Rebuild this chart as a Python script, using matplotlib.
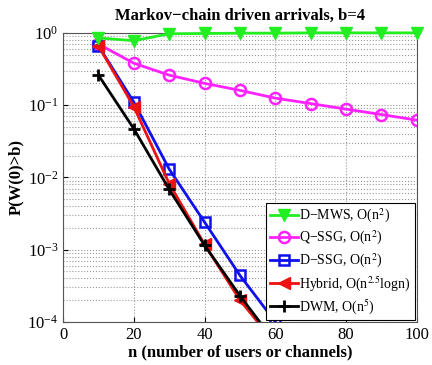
import numpy as np
import matplotlib
matplotlib.use("Agg")
import matplotlib.pyplot as plt

# data
n = [10, 20, 30, 40, 50, 60, 70, 80, 90, 100]
n_fast = [10, 20, 30, 40, 50, 60]

p_dmws = [0.85, 0.78, 0.97, 0.98, 0.99, 0.99, 1.0, 1.0, 1.0, 1.0]
p_qssg = [0.70, 0.38, 0.26, 0.20, 0.16, 0.125, 0.105, 0.088, 0.074, 0.062]
p_dssg = [0.66, 0.11, 0.013, 0.0024, 0.00044, 0.0001]
p_hybrid = [0.66, 0.095, 0.0082, 0.00118, 0.0002, 0.00005]
p_dwm = [0.26, 0.047, 0.0068, 0.00115, 0.00023, 0.000052]

labels = ['D\u2212MWS, O(n$^2$)', 'Q\u2212SSG, O(n$^2$)', 'D\u2212SSG, O(n$^2$)',
          'Hybrid, O(n$^{2.5}$logn)', 'DWM, O(n$^5$)']

plt.rcParams['font.family'] = ['Liberation Serif', 'DejaVu Serif']
plt.rcParams['mathtext.fontset'] = 'stix'

fig = plt.figure(figsize=(4.32, 3.65), dpi=100)
ax = fig.add_axes([0.146, 0.118, 0.819, 0.792])

ax.semilogy(n, p_dmws, '-v', color='#22ee22', lw=2, ms=8, mfc='#22ee22', label=labels[0],
            clip_on=False, zorder=5)
ax.semilogy(n, p_qssg, '-o', color='#ff22ff', lw=2, ms=8, mfc='none', mew=1.8, label=labels[1])
ax.semilogy(n_fast, p_dssg, '-s', color='#1010ee', lw=2, ms=7, mfc='none', mew=1.8, label=labels[2])
ax.semilogy(n_fast, p_hybrid, '-<', color='#ee1111', lw=2, ms=8, mfc='#ee1111', label=labels[3])
ax.semilogy(n_fast, p_dwm, '-+', color='black', lw=2, ms=9, mew=2, label=labels[4])

ax.set_xlim(0, 100)
ax.set_ylim(1e-4, 1)
ax.set_xticks([0, 20, 40, 60, 80, 100])
ax.grid(True, which='major', ls=':', color='#999999', lw=0.8)
ax.grid(True, which='minor', axis='y', ls=':', color='#999999', lw=0.8)
ax.tick_params(labelsize=12, direction='in', which='both')
ax.tick_params(axis='y', which='minor', length=0)
for s in ax.spines.values():
    s.set_color('#555555')

ax.set_title('Markov\u2212chain driven arrivals, b=4', fontsize=12, fontweight='bold', pad=9)
ax.set_xlabel('n (number of users or channels)', fontsize=12, fontweight='bold', labelpad=1)
ax.set_ylabel('P(W(0)>b)', fontsize=12, fontweight='bold', labelpad=2)

leg = ax.legend(loc='lower right', fontsize=10, handlelength=2.0, handletextpad=0.1,
                borderpad=0.3, labelspacing=0.3, borderaxespad=0.15, fancybox=False,
                framealpha=1, edgecolor='black')
leg.get_frame().set_linewidth(0.8)

fig.savefig('out.png', dpi=100)
